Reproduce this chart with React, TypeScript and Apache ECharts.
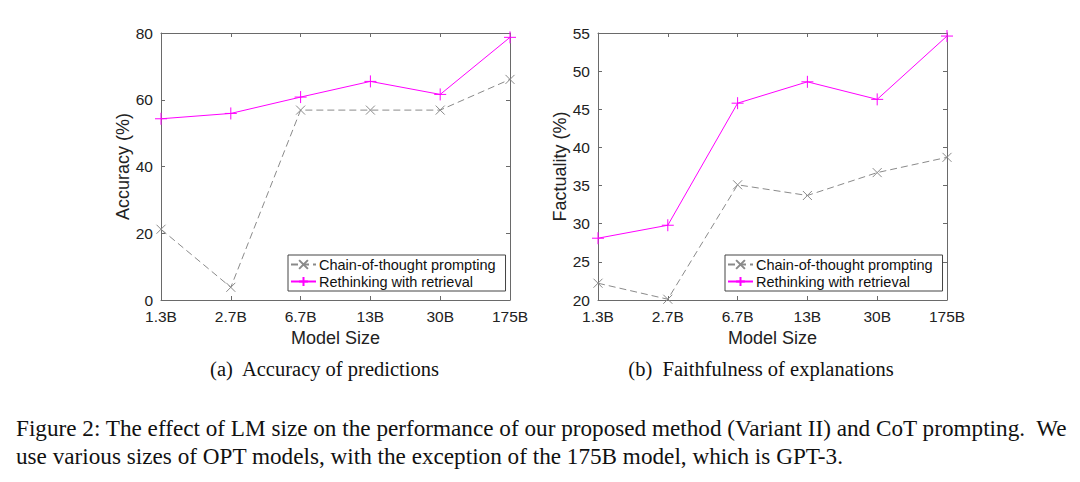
import React, { useEffect, useRef } from "react";
import * as echarts from "echarts";

const categories = ["1.3B", "2.7B", "6.7B", "13B", "30B", "175B"];
const accuracyCoT = [21.2, 3.8, 56.9, 56.9, 56.9, 66.1];
const accuracyRwR = [54.3, 55.9, 60.8, 65.5, 61.6, 78.7];
const factualityCoT = [22.2, 20.1, 35.1, 33.7, 36.7, 38.7];
const factualityRwR = [28.1, 29.8, 45.8, 48.6, 46.3, 54.6];
const seriesNames = ["Chain-of-thought prompting", "Rethinking with retrieval"];

const SANS = "Liberation Sans";
const SERIF = "Liberation Serif";
const AXIS = "#6a6a6a";
const GRAY = "#8a8a8a";
const MAGENTA = "#ff00ff";
const CROSS = "path://M0,0L10,10M10,0L0,10";
const PLUS = "path://M5,0L5,10M0,5L10,5";

export default function App() {
  const ref = useRef<HTMLDivElement>(null);
  useEffect(() => {
    const chart = echarts.init(ref.current!, null, { renderer: "svg" });
    const grids = [
      { left: 161, top: 33, width: 349, height: 267 },
      { left: 598, top: 33, width: 349, height: 267 },
    ];
    const tick = { show: true, inside: true, length: 4, lineStyle: { color: AXIS, width: 1 } };
    const line = { show: true, onZero: false, lineStyle: { color: AXIS, width: 1 } };
    const label = { color: "#222", fontFamily: SANS, fontSize: 15.5 };
    const nameStyle = { color: "#222", fontFamily: SANS, fontSize: 18 };
    const xAxis: any[] = [];
    const yAxis: any[] = [];
    const yRanges = [
      { min: 0, max: 80, interval: 20, name: "Accuracy (%)" },
      { min: 20, max: 55, interval: 5, name: "Factuality (%)" },
    ];
    grids.forEach((g, i) => {
      xAxis.push({
        type: "category", gridIndex: i, data: categories, boundaryGap: false, position: "bottom",
        axisLine: line, axisTick: tick, axisLabel: { ...label, margin: 8 },
        name: "Model Size", nameLocation: "middle", nameGap: 26, nameTextStyle: nameStyle,
        splitLine: { show: false },
      });
      xAxis.push({
        type: "category", gridIndex: i, data: categories, boundaryGap: false, position: "top",
        axisLine: line, axisTick: tick, axisLabel: { show: false }, splitLine: { show: false },
      });
      const r = yRanges[i];
      yAxis.push({
        type: "value", gridIndex: i, min: r.min, max: r.max, interval: r.interval, position: "left",
        axisLine: line, axisTick: tick, axisLabel: { ...label, margin: 8 }, splitLine: { show: false },
        name: r.name, nameLocation: "middle", nameGap: 26, nameTextStyle: nameStyle,
      });
      yAxis.push({
        type: "value", gridIndex: i, min: r.min, max: r.max, interval: r.interval, position: "right",
        axisLine: line, axisTick: tick, axisLabel: { show: false }, splitLine: { show: false },
      });
    });
    const mk = (name: string, data: number[], i: number, cot: boolean) => ({
      type: "line", name, data, xAxisIndex: i * 2, yAxisIndex: i * 2,
      symbol: cot ? CROSS : PLUS, symbolSize: cot ? 9 : 12,
      itemStyle: { color: cot ? GRAY : MAGENTA, borderColor: cot ? GRAY : MAGENTA, borderWidth: 1 },
      lineStyle: { color: cot ? GRAY : MAGENTA, width: 1, type: cot ? [7, 4] : "solid" },
      z: cot ? 2 : 3,
    });
    const legend = (left: number) => ({
      left, top: 255, orient: "vertical", data: seriesNames, itemGap: 2, itemWidth: 25, itemHeight: 11,
      padding: [2, 10, 2, 2], borderColor: "#444", borderWidth: 1, backgroundColor: "#fff",
      selectedMode: false,
      textStyle: { color: "#111", fontFamily: SANS, fontSize: 14.5, padding: [0, 0, 0, -2] },
    });
    const sub = { fill: "#111", fontFamily: SERIF, fontSize: 20.5 };
    const cap = { fill: "#111", fontFamily: SERIF, fontSize: 23.2 };
    chart.setOption({
      animation: false,
      backgroundColor: "#fff",
      grid: grids,
      xAxis,
      yAxis,
      legend: [legend(288), legend(725)],
      series: [
        mk(seriesNames[0], accuracyCoT, 0, true),
        mk(seriesNames[1], accuracyRwR, 0, false),
        mk(seriesNames[0], factualityCoT, 1, true),
        mk(seriesNames[1], factualityRwR, 1, false),
      ],
      graphic: [
        { type: "text", x: 324.5, y: 369, style: { ...sub, text: "(a)  Accuracy of predictions", align: "center", verticalAlign: "middle" } },
        { type: "text", x: 761, y: 369, style: { ...sub, text: "(b)  Faithfulness of explanations", align: "center", verticalAlign: "middle" } },
        { type: "text", x: 16, y: 428, style: { ...cap, text: "Figure 2: The effect of LM size on the performance of our proposed method (Variant II) and CoT prompting.  We", verticalAlign: "middle" } },
        { type: "text", x: 16, y: 456, style: { ...cap, text: "use various sizes of OPT models, with the exception of the 175B model, which is GPT-3.", verticalAlign: "middle" } },
      ],
    });
    return () => chart.dispose();
  }, []);
  return <div ref={ref} style={{ width: 1080, height: 482, position: "absolute", left: 0, top: 0 }} />;
}
